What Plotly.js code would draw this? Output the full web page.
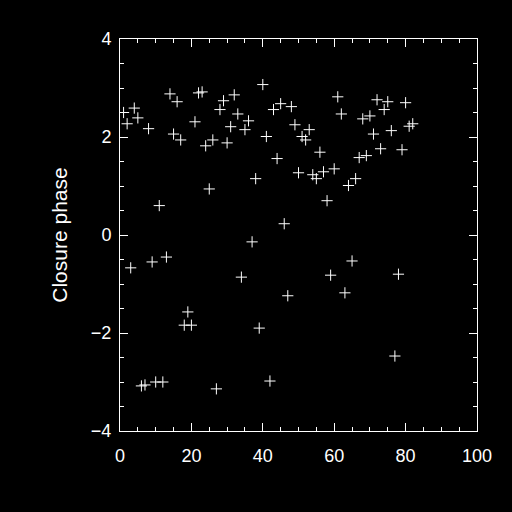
<!DOCTYPE html>
<html>
<head>
<meta charset="utf-8">
<script src="https://cdn.plot.ly/plotly-3.0.1.min.js"></script>
<style>html,body{margin:0;padding:0;background:#000;}#plot{width:512px;height:512px;}</style>
</head>
<body>
<div id="plot"></div>
<script>
const baselineIndex = [1,2,3,4,5,6,7,8,9,10,11,12,13,14,15,16,17,18,19,20,
  21,22,23,24,25,26,27,28,29,30,31,32,33,34,35,36,37,38,39,40,
  41,42,43,44,45,46,47,48,49,50,51,52,53,54,55,56,57,58,59,60,
  61,62,63,64,65,66,67,68,69,70,71,72,73,74,75,76,77,78,79,80,81,82];
const closurePhase = [2.50,2.27,-0.67,2.59,2.39,-3.08,-3.06,2.17,-0.55,-3.00,
  0.60,-3.00,-0.45,2.88,2.06,2.72,1.94,-1.84,-1.57,-1.84,
  2.31,2.90,2.92,1.82,0.94,1.94,-3.14,2.56,2.74,1.88,
  2.21,2.86,2.47,-0.86,2.15,2.33,-0.14,1.15,-1.90,3.07,
  2.01,-2.98,2.56,1.56,2.68,0.23,-1.24,2.62,2.25,1.27,
  2.01,1.94,2.15,1.23,1.15,1.69,1.29,0.70,-0.82,1.35,
  2.82,2.47,-1.18,1.01,-0.53,1.15,1.58,2.37,1.62,2.43,
  2.06,2.76,1.76,2.56,2.72,2.13,-2.47,-0.80,1.74,2.70,
  2.22,2.27];
const xTicks = [0,20,40,60,80,100];
const yTicks = [-4,-2,0,2,4];

const fontFam = 'Liberation Sans, Arial, sans-serif';
const axisCommon = {
  showgrid: false, zeroline: false, showline: true, linecolor: '#fff', linewidth: 1,
  mirror: 'ticks', ticks: 'inside', ticklen: 8, tickwidth: 1, tickcolor: '#fff',
  tickfont: {family: fontFam, size: 18, color: '#fff'}, automargin: false
};
const data = [{
  x: baselineIndex, y: closurePhase, type: 'scatter', mode: 'markers',
  marker: {symbol: 'cross-thin-open', size: 8, line: {color: '#fff', width: 1}, color: '#fff'},
  hoverinfo: 'none'
}];
const layout = {
  width: 512, height: 512,
  paper_bgcolor: '#000', plot_bgcolor: '#000',
  margin: {l: 120, r: 35, t: 39, b: 81},
  showlegend: false,
  xaxis: Object.assign({}, axisCommon, {
    range: [0, 100], tickvals: xTicks, ticktext: xTicks.map(String), ticklabelstandoff: 8,
    minor: {dtick: 5, tick0: 0, ticks: 'inside', ticklen: 4, tickwidth: 1, tickcolor: '#fff'}
  }),
  yaxis: Object.assign({}, axisCommon, {
    range: [-4, 4], tickvals: yTicks, ticktext: yTicks.map(v => v < 0 ? '\u2212' + Math.abs(v) : String(v)),
    ticklabelstandoff: 4,
    minor: {dtick: 0.5, tick0: 0, ticks: 'inside', ticklen: 4, tickwidth: 1, tickcolor: '#fff'},
    title: {text: 'Closure phase', font: {family: fontFam, size: 21, color: '#fff'}, standoff: 17}
  })
};
Plotly.newPlot('plot', data, layout, {staticPlot: true});
</script>
</body>
</html>
